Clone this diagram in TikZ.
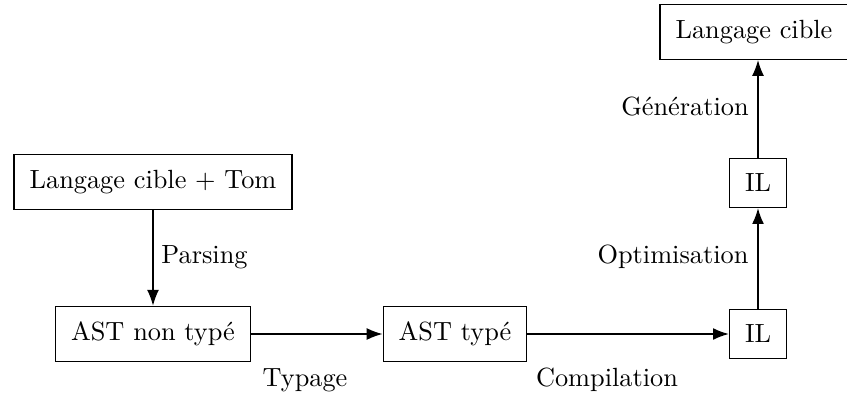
\documentclass[tikz,border=0pt]{standalone}
\usetikzlibrary{arrows.meta}
\begin{document}
\begin{tikzpicture}[x=0.38pt,y=-0.38pt,
  box/.style={draw,line width=0.5pt,inner sep=5.9pt},
  lbl/.style={inner sep=0pt},
  conn/.style={-{Latex[length=6pt,width=4.5pt]},line width=0.5pt}]
\useasboundingbox (0,0) rectangle (847,396);
\node[box] (src) at (153,182) {Langage cible + Tom};
\node[box] (ast) at (153,334) {AST non typé};
\node[box] (astt) at (455,334) {AST typé};
\node[box] (il1) at (758,334) {IL};
\node[box] (il2) at (758,183) {IL};
\node[box] (cible) at (754,32) {Langage cible};
\node[lbl] (lp) at (204.5,257) {Parsing};
\node[lbl] (lt) at (305,380) {Typage};
\node[lbl] (lc) at (607,380) {Compilation};
\node[lbl] (lo) at (673,257) {Optimisation};
\node[lbl] (lg) at (685,107) {Génération};
\draw[conn] (src.south) -- (ast.north);
\draw[conn] (ast) -- (astt);
\draw[conn] (astt) -- (il1);
\draw[conn] (il1) -- (il2);
\draw[conn] (il2.north) -- (il2.north |- cible.south);
\end{tikzpicture}
\end{document}
